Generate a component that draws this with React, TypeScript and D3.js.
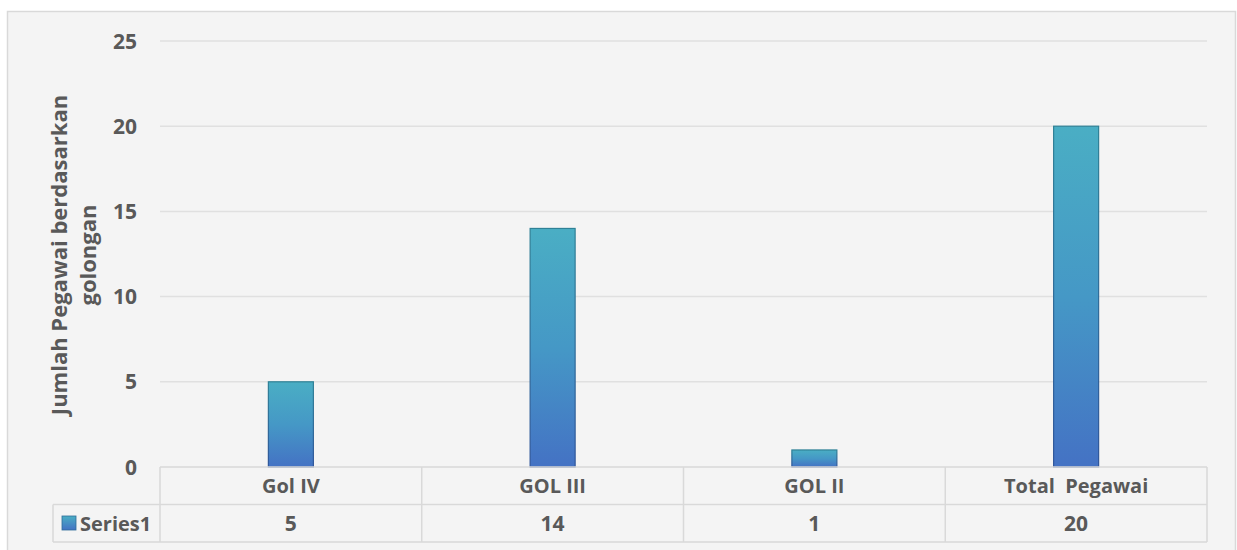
import React from "react";
import * as d3 from "d3";

const categories = ["Gol IV", "GOL III", "GOL II", "Total  Pegawai"];
const values = [5, 14, 1, 20];
const yTicks = [0, 5, 10, 15, 20, 25];
const seriesName = "Series1";
const yTitle = ["Jumlah Pegawai berdasarkan", "golongan"];

export default function App() {
  const W = 1237, H = 550;
  const left = 160, right = 1207, top = 41, bottom = 467;
  const rowH = 37.5;
  const x = d3.scaleBand<string>().domain(categories).range([left, right]).paddingInner(0).paddingOuter(0);
  const y = d3.scaleLinear().domain([0, 25]).range([bottom, top]);
  const barW = 45;
  const font = "'Open Sans', 'Noto Sans', sans-serif";
  const txt = "#595959";
  const grid = "#d9d9d9";
  return (
    <svg width={W} height={H} style={{ position: "absolute", left: 0, top: 0 }}>
      <defs>
        <linearGradient id="barFill" x1="0" y1="0" x2="0" y2="1">
          <stop offset="0" stopColor="#4aaec4" />
          <stop offset="0.5" stopColor="#4598c6" />
          <stop offset="1" stopColor="#4472c4" />
        </linearGradient>
        <linearGradient id="barStroke" x1="0" y1="0" x2="0" y2="1">
          <stop offset="0" stopColor="#2f8196" />
          <stop offset="1" stopColor="#2f559a" />
        </linearGradient>
        <linearGradient id="keyFill" x1="0" y1="0" x2="0" y2="1">
          <stop offset="0" stopColor="#4aaec4" />
          <stop offset="1" stopColor="#4472c4" />
        </linearGradient>
      </defs>
      <rect x={7.5} y={11.5} width={1228} height={560} fill="#f4f4f4" stroke={grid} strokeWidth={1.5} />
      {yTicks.map((t) => (
        <g key={t}>
          {t > 0 && <line x1={left} x2={right} y1={y(t)} y2={y(t)} stroke="#e0e0e0" strokeWidth={1.5} />}
          <text x={137} y={y(t)} dy="0.36em" textAnchor="end" fontFamily={font} fontWeight={700} fontSize={21} fill={txt}>{t}</text>
        </g>
      ))}
      <g transform={`translate(67, 255) rotate(-90)`}>
        {yTitle.map((l, i) => (
          <text key={i} x={0} y={i * 29} textAnchor="middle" fontFamily={font} fontWeight={700} fontSize={22} fill={txt}>{l}</text>
        ))}
      </g>
      {categories.map((c, i) => {
        const cx = (x(c) as number) + x.bandwidth() / 2;
        return (
          <rect key={c} x={cx - barW / 2} y={y(values[i])} width={barW} height={bottom - y(values[i])}
            fill="url(#barFill)" stroke="url(#barStroke)" strokeWidth={1.2} />
        );
      })}
      {/* data table */}
      <g stroke={grid} strokeWidth={1.5} fill="none">
        <line x1={left} x2={right} y1={bottom} y2={bottom} />
        <line x1={53} x2={right} y1={bottom + rowH} y2={bottom + rowH} />
        <line x1={53} x2={right} y1={bottom + 2 * rowH} y2={bottom + 2 * rowH} />
        <line x1={53} x2={53} y1={bottom + rowH} y2={bottom + 2 * rowH} />
        {categories.map((c) => (
          <line key={c} x1={x(c) as number} x2={x(c) as number} y1={bottom} y2={bottom + 2 * rowH} />
        ))}
        <line x1={right} x2={right} y1={bottom} y2={bottom + 2 * rowH} />
      </g>
      {categories.map((c, i) => {
        const cx = (x(c) as number) + x.bandwidth() / 2;
        return (
          <g key={c}>
            <text x={cx} y={bottom + rowH / 2 + 0.5} dy="0.36em" textAnchor="middle" fontFamily={font} fontWeight={700} fontSize={20} fill={txt} style={{ whiteSpace: "pre" }}>{c}</text>
            <text x={cx} y={bottom + rowH * 1.5 + 0.5} dy="0.36em" textAnchor="middle" fontFamily={font} fontWeight={700} fontSize={21} fill={txt}>{values[i]}</text>
          </g>
        );
      })}
      <rect x={62} y={516} width={14} height={14} fill="url(#keyFill)" stroke="#2f6d9a" strokeWidth={0.8} />
      <text x={80} y={bottom + rowH * 1.5 + 0.5} dy="0.36em" fontFamily={font} fontWeight={700} fontSize={20} fill={txt}>{seriesName}</text>
    </svg>
  );
}
